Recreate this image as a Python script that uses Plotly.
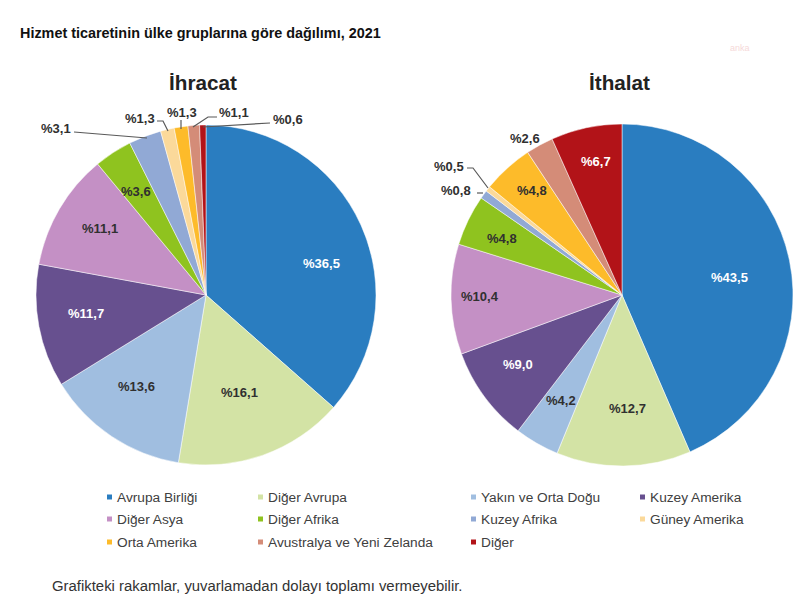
"""Hizmet ticareti pie charts: two pies, hand-placed labels and a custom legend grid."""

import plotly.graph_objects as go

W, H = 800, 603

CATEGORIES = [
    "Avrupa Birliği", "Diğer Avrupa", "Yakın ve Orta Doğu", "Kuzey Amerika",
    "Diğer Asya", "Diğer Afrika", "Kuzey Afrika", "Güney Amerika",
    "Orta Amerika", "Avustralya ve Yeni Zelanda", "Diğer",
]
IHRACAT = [36.5, 16.1, 13.6, 11.7, 11.1, 3.6, 3.1, 1.3, 1.3, 1.1, 0.6]
ITHALAT = [43.5, 12.7, 4.2, 9.0, 10.4, 4.8, 0.8, 0.5, 4.8, 2.6, 6.7]
COLORS = [
    "#2a7dc0", "#d3e3a5", "#a0bee0", "#67508f", "#c490c5", "#8fc31f",
    "#91a9d5", "#fbd99a", "#fdbb2a", "#d48c78", "#b21318",
]

# label centres in pixels, same order as the categories
IHRACAT_LABEL_X = [321, 239, 136, 86, 100, 136, 56, 140, 182, 234, 288]
IHRACAT_LABEL_Y = [263, 392, 386, 313, 228, 191, 128, 118, 112, 112, 120]
ITHALAT_LABEL_X = [729, 627, 561, 518, 480, 502, 456, 449, 532, 525, 596]
ITHALAT_LABEL_Y = [277, 408, 400, 364, 296, 238, 190, 166, 190, 138, 161]
WHITE_LABELS = {"ihracat": [0, 3], "ithalat": [0, 3, 10]}

# leader lines as pixel polylines
LEADERS = [
    [(74, 132), (147, 138)],
    [(157, 121), (163, 121), (168, 131)],
    [(181, 120), (181, 129)],
    [(217, 117), (208, 117), (193, 127)],
    [(270, 123), (203, 127)],
    [(467, 168), (473, 168), (488, 188)],
    [(477, 193), (483, 193)],
]

LEGEND_COL_X = [107, 258, 471, 640]
LEGEND_ROW_Y = [497, 519, 542]


def px(x):
    return x / W


def py(y):
    return 1 - y / H


def pie(values, name, cx, cy, r):
    return go.Pie(
        values=values, labels=CATEGORIES, name=name, sort=False, direction="clockwise",
        rotation=0, textinfo="none", showlegend=False,
        marker=dict(colors=COLORS, line=dict(color="white", width=0.5)),
        domain=dict(x=[px(cx - r), px(cx + r)], y=[py(cy + r), py(cy - r)]),
    )


def label(x, y, text, size=13, color="#404040", bold=True, anchor="center"):
    return dict(
        x=px(x), y=py(y), xref="paper", yref="paper", text=f"<b>{text}</b>" if bold else text,
        showarrow=False, xanchor=anchor, yanchor="middle",
        font=dict(family="Liberation Sans", size=size, color=color),
    )


def pct(v):
    return f"%{v:.1f}".replace(".", ",")


fig = go.Figure()
fig.add_trace(pie(IHRACAT, "İhracat", 206, 295, 170))
fig.add_trace(pie(ITHALAT, "İthalat", 622, 295, 171))

annotations = [
    label(18, 33, "Hizmet ticaretinin ülke gruplarına göre dağılımı, 2021", size=14.4, color="#111111", anchor="left"),
    label(203, 82, "İhracat", size=20.7, color="#222222"),
    label(619, 82, "İthalat", size=20.7, color="#222222"),
    label(50, 586, "Grafikteki rakamlar, yuvarlamadan dolayı toplamı vermeyebilir.", size=14.9, color="#333333", bold=False, anchor="left"),
    label(740, 48, "anka", size=9, color="#f6d9d9", bold=False),
]

for i, v in enumerate(IHRACAT):
    col = "white" if i in WHITE_LABELS["ihracat"] else "#303030"
    annotations.append(label(IHRACAT_LABEL_X[i], IHRACAT_LABEL_Y[i], pct(v), color=col))
for i, v in enumerate(ITHALAT):
    col = "white" if i in WHITE_LABELS["ithalat"] else "#303030"
    annotations.append(label(ITHALAT_LABEL_X[i], ITHALAT_LABEL_Y[i], pct(v), color=col))

shapes = []
for pts in LEADERS:
    path = "M " + " L ".join(f"{px(x)} {py(y)}" for x, y in pts)
    shapes.append(dict(type="path", path=path, xref="paper", yref="paper", line=dict(color="#595959", width=1.2)))

# legend: 4 columns, 3 rows, filled left to right
for i, (cat, color) in enumerate(zip(CATEGORIES, COLORS)):
    row, col = divmod(i, 4)
    x, y = LEGEND_COL_X[col], LEGEND_ROW_Y[row]
    shapes.append(dict(
        type="rect", xref="paper", yref="paper", line=dict(width=0), fillcolor=color,
        x0=px(x), x1=px(x + 5), y0=py(y + 2.5), y1=py(y - 2.5),
    ))
    annotations.append(label(x + 8, y, cat, size=13.7, color="#404040", bold=False, anchor="left"))

fig.update_layout(
    width=W, height=H, margin=dict(l=0, r=0, t=0, b=0), paper_bgcolor="white",
    annotations=annotations, shapes=shapes,
)
# the page's default body margin would push the figure 8px right and down
fig.write_html(
    "out.html",
    config={"displayModeBar": False},
    post_script="document.body.style.margin = '0';",
)
